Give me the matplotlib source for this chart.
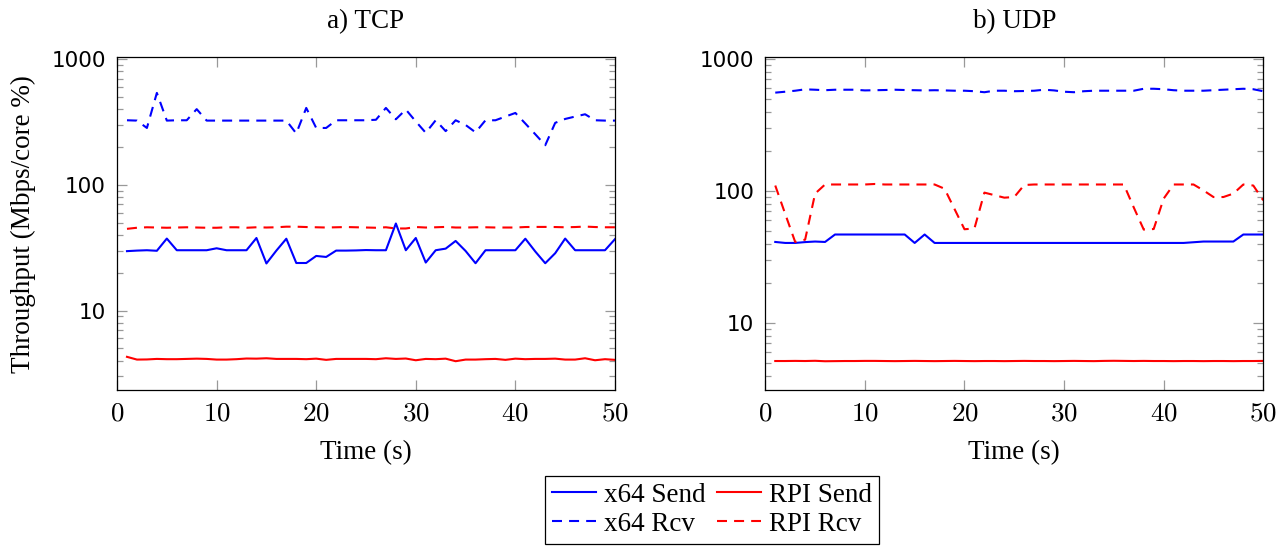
import numpy as np
import matplotlib
matplotlib.use("Agg")
import matplotlib.pyplot as plt
from matplotlib.ticker import LogLocator, FuncFormatter, NullFormatter, MultipleLocator

plt.rcParams['font.family'] = ['Liberation Serif', 'DejaVu Serif']
plt.rcParams['mathtext.fontset'] = 'cm'

#### data (time in s, throughput in Mbps/core %) ####
t = np.arange(1, 51)

tcp_x64_send = [29.7, 30.0, 30.2, 29.9, 37.4, 30.2, 30.2, 30.2, 30.2, 31.3,
                30.2, 30.2, 30.2, 37.8, 23.7, 30.0, 37.3, 23.9, 23.9, 27.2,
                26.7, 30.0, 30.0, 30.1, 30.3, 30.2, 30.2, 49.3, 30.2, 37.8,
                24.1, 30.2, 31.1, 35.8, 29.8, 23.8, 30.2, 30.2, 30.2, 30.2,
                37.3, 29.5, 23.8, 28.6, 37.4, 30.2, 30.2, 30.2, 30.2, 37.0]
tcp_x64_rcv = [327, 325, 284, 540, 325, 327, 327, 401, 325, 325,
               325, 325, 325, 325, 325, 325, 325, 257, 410, 284,
               284, 327, 327, 327, 327, 330, 410, 333, 398, 320,
               260, 327, 268, 327, 300, 262, 327, 327, 350, 374,
               308, 253, 207, 312, 335, 350, 365, 327, 325, 325]
tcp_rpi_send = [4.28, 4.07, 4.08, 4.12, 4.10, 4.10, 4.12, 4.14, 4.12, 4.07,
                4.07, 4.10, 4.15, 4.14, 4.17, 4.12, 4.12, 4.12, 4.10, 4.14,
                4.05, 4.12, 4.12, 4.12, 4.12, 4.10, 4.17, 4.12, 4.15, 4.02,
                4.12, 4.10, 4.14, 3.95, 4.07, 4.07, 4.10, 4.12, 4.05, 4.14,
                4.10, 4.12, 4.12, 4.14, 4.07, 4.07, 4.17, 4.02, 4.10, 4.05]
tcp_rpi_rcv = [44.7, 45.6, 46.0, 45.8, 45.6, 45.8, 46.0, 45.8, 45.6, 45.6,
               46.0, 46.0, 45.6, 46.0, 45.8, 46.0, 46.5, 46.5, 46.2, 46.0,
               45.8, 46.0, 46.2, 46.0, 45.8, 45.6, 46.0, 45.0, 45.0, 46.2,
               45.8, 46.0, 46.3, 45.8, 45.8, 46.0, 46.0, 45.8, 45.8, 45.8,
               46.2, 46.3, 46.3, 46.2, 46.0, 46.2, 46.6, 46.2, 46.0, 46.0]

udp_x64_send = [41.1, 40.4, 40.4, 41.0, 41.4, 41.1, 46.8, 46.8, 46.8, 46.8,
                46.8, 46.8, 46.8, 46.8, 40.4, 46.8, 40.4, 40.4, 40.4, 40.4,
                40.4, 40.4, 40.4, 40.4, 40.4, 40.4, 40.4, 40.4, 40.4, 40.4,
                40.4, 40.4, 40.4, 40.4, 40.4, 40.4, 40.4, 40.4, 40.4, 40.4,
                40.4, 40.4, 40.9, 41.4, 41.4, 41.4, 41.4, 46.8, 46.8, 46.8]
udp_x64_rcv = [556, 565, 575, 589, 585, 580, 585, 585, 585, 578,
               580, 582, 585, 582, 580, 578, 580, 578, 575, 575,
               570, 560, 575, 575, 570, 572, 575, 585, 578, 565,
               560, 570, 575, 575, 575, 575, 575, 595, 595, 590,
               580, 575, 575, 575, 580, 585, 590, 595, 590, 570]
udp_rpi_send = [5.15, 5.15, 5.16, 5.15, 5.17, 5.13, 5.14, 5.15, 5.15, 5.16,
                5.16, 5.15, 5.14, 5.15, 5.16, 5.15, 5.14, 5.15, 5.16, 5.15,
                5.14, 5.15, 5.15, 5.14, 5.15, 5.16, 5.15, 5.15, 5.14, 5.15,
                5.16, 5.15, 5.14, 5.16, 5.17, 5.16, 5.15, 5.16, 5.15, 5.15,
                5.14, 5.15, 5.15, 5.14, 5.15, 5.15, 5.14, 5.15, 5.15, 5.16]
udp_rpi_rcv = [110, 67, 41.1, 42.8, 95.5, 112, 112, 112, 112, 112,
               113, 112, 112, 112, 112, 112, 112, 104, 73, 51.3,
               52, 97.2, 93, 89, 90, 111, 112, 112, 112, 112,
               112, 112, 112, 112, 112, 112, 75, 51, 51.5, 87.5,
               112, 112, 112, 101, 90, 90, 95.5, 112, 110, 85]

titles = ['a) TCP', 'b) UDP']
ylims = [(2.31, 1037), (3.08, 1030)]

fig = plt.figure(figsize=(12.86, 5.52), dpi=100)
ax1 = fig.add_axes([0.0910, 0.2926, 0.3872, 0.6036])
ax2 = fig.add_axes([0.5951, 0.2926, 0.3872, 0.6036])

dash = (4.8, 3.4)
panels = [(ax1, tcp_x64_send, tcp_x64_rcv, tcp_rpi_send, tcp_rpi_rcv),
          (ax2, udp_x64_send, udp_x64_rcv, udp_rpi_send, udp_rpi_rcv)]

for i, (ax, xs, xr, rs, rr) in enumerate(panels):
    ax.plot(t, xs, color='#0000ff', lw=1.5, label='x64 Send')
    ax.plot(t, xr, color='#0000ff', lw=1.5, dashes=dash, label='x64 Rcv')
    ax.plot(t, rs, color='#ff0000', lw=1.5, label='RPI Send')
    ax.plot(t, rr, color='#ff0000', lw=1.5, dashes=dash, label='RPI Rcv')

    ax.set_yscale('log')
    ax.set_xlim(0, 50)
    ax.set_ylim(*ylims[i])
    ax.xaxis.set_major_locator(MultipleLocator(10))
    ax.xaxis.set_major_formatter(FuncFormatter(lambda v, p: r'$%d$' % v))
    ax.yaxis.set_major_locator(LogLocator(base=10))
    ax.yaxis.set_minor_locator(LogLocator(base=10, subs=np.arange(2, 10)))
    ax.yaxis.set_major_formatter(FuncFormatter(lambda v, p: '%d' % round(v)))
    ax.yaxis.set_minor_formatter(NullFormatter())

    ax.tick_params(which='both', direction='in', top=True, right=True,
                   color='#999999', width=0.9)
    ax.tick_params(which='major', length=7)
    ax.tick_params(which='minor', length=4.3)
    ax.tick_params(axis='x', labelsize=19.5, pad=8)
    ax.tick_params(axis='y', labelsize=15.5, pad=8)
    for lab in ax.get_yticklabels():
        lab.set_family('DejaVu Sans')
    for s in ax.spines.values():
        s.set_linewidth(0.9)

    ax.set_title(titles[i], fontsize=19.5, pad=21)
    ax.set_xlabel('Time (s)', fontsize=19.5, labelpad=10)

ax1.set_ylabel('Throughput (Mbps/core %)', fontsize=19.5, labelpad=11)

handles, labels = ax1.get_legend_handles_labels()
leg = fig.legend(handles, labels, loc='upper center', ncol=2,
                 bbox_to_anchor=(0.5537, 0.1377), borderaxespad=0,
                 fontsize=19.5, frameon=True, fancybox=False,
                 edgecolor='black', framealpha=1, handlelength=1.63,
                 handletextpad=0.3, columnspacing=0.4, labelspacing=0.15,
                 borderpad=0.25)
leg.get_frame().set_linewidth(0.9)

fig.savefig('out.png', dpi=100)
